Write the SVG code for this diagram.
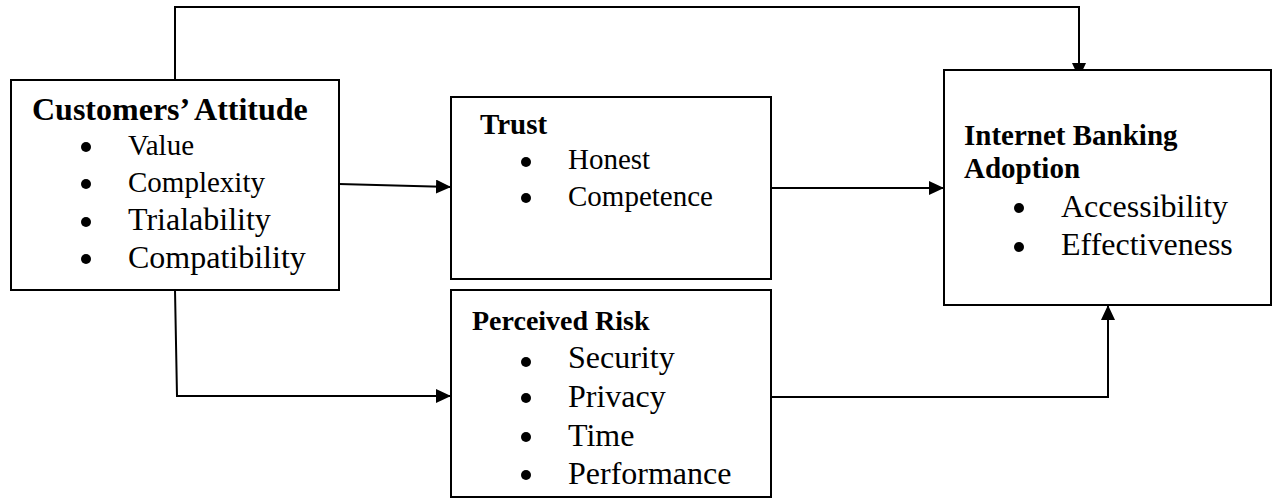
<svg xmlns="http://www.w3.org/2000/svg" width="1276" height="500" viewBox="0 0 1276 500">
<style>
.box{fill:#fff;stroke:#000;stroke-width:2}
.t{font-family:"Liberation Serif","Times New Roman",serif;fill:#000}
.b{font-weight:bold}
.c{fill:none;stroke:#000;stroke-width:2}
</style>
<defs>
<marker id="ah" markerUnits="userSpaceOnUse" markerWidth="16" markerHeight="14" refX="15" refY="7" orient="auto">
<path d="M0,0 L15,7 L0,14 Z" fill="#000"/>
</marker>
</defs>
<rect width="1276" height="500" fill="#fff"/>
<g id="connectors">
<polyline class="c" points="175,80 175,7 1079,7 1079,78" marker-end="url(#ah)"/>
<polyline class="c" points="175,290 177,396 451,396" marker-end="url(#ah)"/>
<line class="c" x1="339" y1="184" x2="451" y2="187" marker-end="url(#ah)"/>
<line class="c" x1="771" y1="188" x2="944" y2="188" marker-end="url(#ah)"/>
<polyline class="c" points="771,397 1108,397 1108,305" marker-end="url(#ah)"/>
</g>
<g id="attitude">
<rect class="box" x="11" y="80" width="328" height="210"/>
<text class="t b" x="32" y="120" font-size="32">Customers’ Attitude</text>
<circle cx="86" cy="147" r="5"/><circle cx="86" cy="184" r="5"/><circle cx="86" cy="222" r="5"/><circle cx="86" cy="259" r="5"/>
<text class="t" x="128" y="155" font-size="29">Value</text>
<text class="t" x="128" y="192" font-size="29">Complexity</text>
<text class="t" x="128" y="230" font-size="32">Trialability</text>
<text class="t" x="128" y="268" font-size="32">Compatibility</text>
</g>
<g id="trust">
<rect class="box" x="451" y="97" width="320" height="182"/>
<text class="t b" x="480" y="134" font-size="29">Trust</text>
<circle cx="526" cy="162" r="5"/><circle cx="526" cy="198" r="5"/>
<text class="t" x="568" y="169" font-size="29">Honest</text>
<text class="t" x="568" y="206" font-size="29">Competence</text>
</g>
<g id="risk">
<rect class="box" x="451" y="290" width="320" height="207"/>
<text class="t b" x="472" y="330" font-size="28">Perceived Risk</text>
<circle cx="526" cy="362" r="5"/><circle cx="526" cy="398" r="5"/><circle cx="526" cy="437" r="5"/><circle cx="526" cy="475" r="5"/>
<text class="t" x="568" y="368" font-size="32">Security</text>
<text class="t" x="568" y="407" font-size="32">Privacy</text>
<text class="t" x="568" y="446" font-size="32">Time</text>
<text class="t" x="568" y="484" font-size="32">Performance</text>
</g>
<g id="adoption">
<rect class="box" x="944" y="70" width="327" height="235"/>
<text class="t b" x="964" y="145" font-size="29">Internet Banking</text>
<text class="t b" x="964" y="178" font-size="29">Adoption</text>
<circle cx="1019" cy="208" r="5"/><circle cx="1019" cy="247" r="5"/>
<text class="t" x="1061" y="217" font-size="32">Accessibility</text>
<text class="t" x="1061" y="255" font-size="32">Effectiveness</text>
</g>
</svg>
